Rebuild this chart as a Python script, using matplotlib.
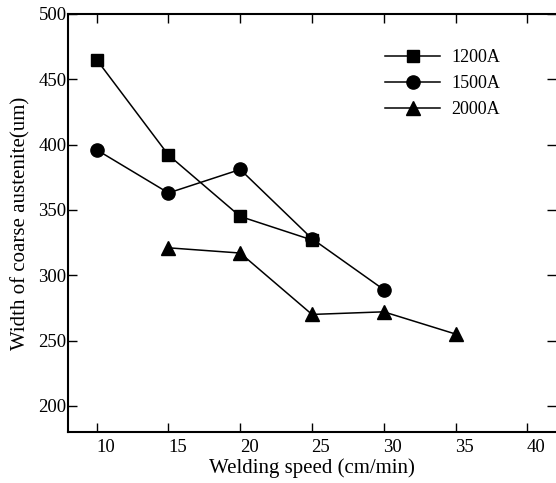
import matplotlib
matplotlib.use("Agg")
import matplotlib.pyplot as plt
import matplotlib.transforms as mtrans

speed_1200 = [10, 15, 20, 25]
width_1200 = [465, 392, 345, 327]
speed_1500 = [10, 15, 20, 25, 30]
width_1500 = [396, 363, 381, 328, 289]
speed_2000 = [15, 20, 25, 30, 35]
width_2000 = [321, 317, 270, 272, 255]
labels = ["1200A", "1500A", "2000A"]
xticks = [10, 15, 20, 25, 30, 35, 40]
yticks = [200, 250, 300, 350, 400, 450, 500]

plt.rcParams['font.family'] = ['Liberation Serif', 'DejaVu Serif']

fig = plt.figure(figsize=(5.56, 4.83), dpi=100)
ax = fig.add_axes([68/556, 1 - 432/483, 1 - 68/556, (432 - 14)/483])

ax.plot(speed_1200, width_1200, '-s', color='black', lw=1.1, ms=8.5, label=labels[0])
ax.plot(speed_1500, width_1500, '-o', color='black', lw=1.1, ms=9.5, label=labels[1])
ax.plot(speed_2000, width_2000, '-^', color='black', lw=1.1, ms=10, label=labels[2])

ax.set_xlim(8, 42)
ax.set_ylim(180, 500)
ax.set_xticks(xticks)
ax.set_yticks(yticks)
ax.tick_params(direction='in', length=6.5, width=1.0, top=True, right=True,
               labelsize=13.5)
ax.tick_params(axis='x', pad=5)
ax.tick_params(axis='y', pad=1)
for sp in ['left', 'bottom', 'top']:
    ax.spines[sp].set_linewidth(1.5)
ax.spines['right'].set_visible(False)

offset = mtrans.ScaledTranslation(9/100, 0, fig.dpi_scale_trans)
for lab in ax.get_xticklabels():
    lab.set_transform(lab.get_transform() + offset)

ax.set_xlabel("Welding speed (cm/min)", fontsize=15, labelpad=2)
ax.set_ylabel("Width of coarse austenite(um)", fontsize=15, labelpad=6)

ax.legend(loc='upper right', bbox_to_anchor=(0.9035, 0.937), frameon=False,
          fontsize=13, handlelength=3.05, handletextpad=0.6, labelspacing=0.5,
          borderpad=0)

fig.savefig("out.png", dpi=100)
